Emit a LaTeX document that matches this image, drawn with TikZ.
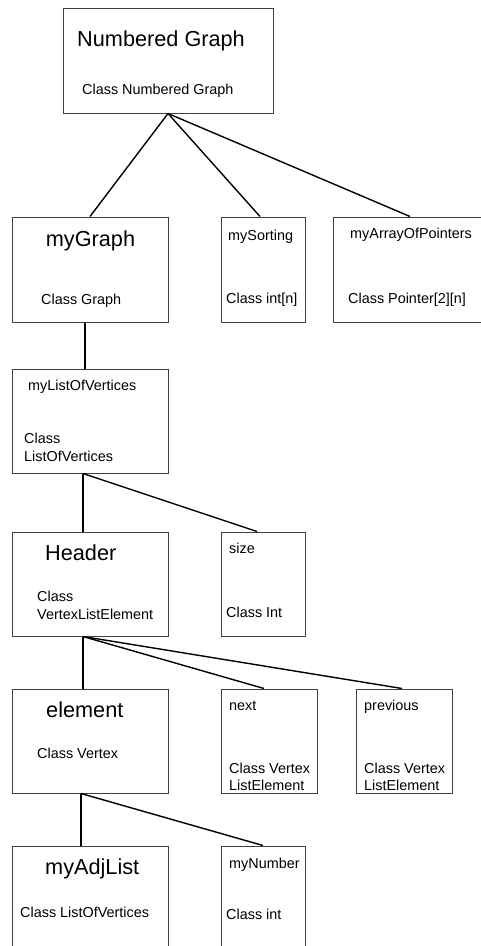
\documentclass[tikz,border=0pt]{standalone}
\usepackage{fontspec}
\setmainfont{Liberation Sans}
\begin{document}
\begin{tikzpicture}[x=1pt,y=-1pt,
  box/.style={draw=black!75,line width=1pt,rectangle,inner sep=0pt,minimum height=105pt},
  big/.style={anchor=base west,inner sep=0pt,font=\fontsize{21.7}{24}\selectfont},
  small/.style={anchor=base west,inner sep=0pt,font=\fontsize{14.4}{17}\selectfont},
  conn/.style={black,line width=1.4pt}]
\useasboundingbox (0,0) rectangle (481,946);
\clip (0,0) rectangle (481,946);
% boxes
\node[box,minimum width=210pt] (ng) at (168,60.5) {};
\node[box,minimum width=156pt] (mg) at (90,269.5) {};
\node[box,minimum width=84pt] (ms) at (263,269.5) {};
\node[box,minimum width=154pt] (ap) at (410,269.5) {};
\node[box,minimum width=156pt,minimum height=104pt] (lov) at (90,421) {};
\node[box,minimum width=156pt,minimum height=104pt] (hd) at (90,584) {};
\node[box,minimum width=84pt,minimum height=104pt] (sz) at (263,584) {};
\node[box,minimum width=156pt,minimum height=104pt] (el) at (90,741) {};
\node[box,minimum width=96pt,minimum height=104pt] (nx) at (269,741) {};
\node[box,minimum width=96pt,minimum height=104pt] (pv) at (404,741) {};
\node[box,minimum width=156pt,minimum height=104pt] (al) at (90,898) {};
\node[box,minimum width=84pt,minimum height=104pt] (mn) at (263,898) {};
% texts
\node[big] (t1) at (77,46) {Numbered Graph};
\node[small] (t2) at (82,94) {Class Numbered Graph};
\node[big] (t3) at (45.7,246.5) {myGraph};
\node[small] (t4) at (41,304) {Class Graph};
\node[small] (t5) at (228,240) {mySorting};
\node[small] (t6) at (226,303) {Class int[n]};
\node[small] (t7) at (350,238.5) {myArrayOfPointers};
\node[small] (t8) at (348,303) {Class Pointer[2][n]};
\node[small] (t9) at (28,390) {myListOfVertices};
\node[small] (t10) at (24,443) {Class};
\node[small] (t11) at (24,461) {ListOfVertices};
\node[big] (t12) at (45,560) {Header};
\node[small] (t13) at (37,601.5) {Class};
\node[small] (t14) at (37,619) {VertexListElement};
\node[small] (t15) at (229,553) {size};
\node[small] (t16) at (226,617) {Class Int};
\node[big] (t17) at (46,717) {element};
\node[small] (t18) at (37,758) {Class Vertex};
\node[small] (t19) at (229,710) {next};
\node[small] (t20) at (229,773) {Class Vertex};
\node[small] (t21) at (229,790) {ListElement};
\node[small] (t22) at (364,710) {previous};
\node[small] (t23) at (364,773) {Class Vertex};
\node[small] (t24) at (364,790) {ListElement};
\node[big] (t25) at (45,874) {myAdjList};
\node[small] (t26) at (20,917) {Class ListOfVertices};
\node[small] (t27) at (229,868) {myNumber};
\node[small] (t28) at (226,919) {Class int};
% connectors
\draw[conn] (ng.south) -- (mg.north);
\draw[conn] (ng.south) -- ([xshift=-3pt]ms.north);
\draw[conn] (ng.south) -- (ap.north);
\draw[conn] ([xshift=-5pt]mg.south) -- ([xshift=-5pt]lov.north);
\draw[conn] ([xshift=-7pt]lov.south) -- ([xshift=-7pt]hd.north);
\draw[conn] ([xshift=-7pt]lov.south) -- ([xshift=-6pt]sz.north);
\draw[conn] ([xshift=-7pt]hd.south) -- ([xshift=-7pt]el.north);
\draw[conn] ([xshift=-7pt]hd.south) -- ([xshift=-5pt]nx.north);
\draw[conn] ([xshift=-7pt]hd.south) -- ([xshift=-2pt]pv.north);
\draw[conn] ([xshift=-9pt]el.south) -- ([xshift=-9pt]al.north);
\draw[conn] ([xshift=-9pt]el.south) -- (mn.north);
\end{tikzpicture}
\end{document}
